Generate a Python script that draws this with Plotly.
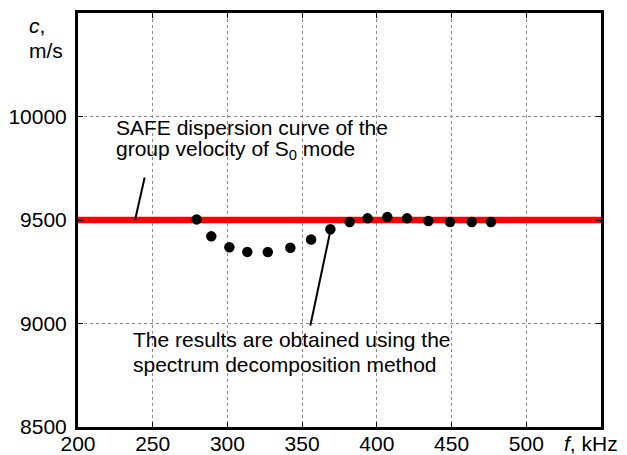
import plotly.graph_objects as go

# SAFE dispersion curve (group velocity of S0 mode)
safe_f = [200, 250, 300, 350, 400, 450, 500, 552]
safe_c = [9500, 9500, 9500, 9500, 9500, 9500, 9500, 9500]

# Spectrum decomposition results
res_f = [279.4, 289.2, 301.3, 313.3, 327.0, 342.1, 356.0, 368.9, 381.8, 393.8,
         407.0, 420.2, 434.5, 449.0, 463.5, 476.4]
res_c = [9503, 9421, 9368, 9346, 9345, 9366, 9406, 9455, 9490, 9508,
         9514, 9508, 9495, 9490, 9490, 9490]

x_ticks = [200, 250, 300, 350, 400, 450, 500, 550]
x_labels = ["200", "250", "300", "350", "400", "450", "500", " "]
x_unit = "<i>f</i>, kHz"
y_ticks = [8500, 9000, 9500, 10000, 10500]
y_labels = ["8500", "9000", "9500", "10000", " "]

# leader lines (data coordinates)
lead1_f = [244.6, 238.2]
lead1_c = [9705, 9500]
lead2_f = [368.9, 355.5]
lead2_c = [9448, 8990]

FONT = "Liberation Sans, Arial, sans-serif"
FS = 21

fig = go.Figure()
fig.add_trace(go.Scatter(x=safe_f, y=safe_c, mode="lines",
                         line=dict(color="#ff0000", width=6.5), showlegend=False))
fig.add_trace(go.Scatter(x=lead1_f, y=lead1_c, mode="lines",
                         line=dict(color="black", width=2), showlegend=False))
fig.add_trace(go.Scatter(x=lead2_f, y=lead2_c, mode="lines",
                         line=dict(color="black", width=2), showlegend=False))
fig.add_trace(go.Scatter(x=res_f, y=res_c, mode="markers",
                         marker=dict(color="black", size=10.5), showlegend=False))

ann = []
def txt(x, y, s, xref="x", yref="y", xanchor="left"):
    ann.append(dict(x=x, y=y, xref=xref, yref=yref, text=s, showarrow=False,
                    xanchor=xanchor, yanchor="middle",
                    font=dict(family=FONT, size=FS, color="black")))

txt(224.3, 9947, "SAFE dispersion curve of the")
txt(224.3, 9836, "group velocity of S<sub>0</sub> mode")
txt(235.7, 8924, "The results are obtained using the")
txt(235.7, 8804, "spectrum decomposition method")
txt(-0.098, 0.9686, "<i>c</i>,", xref="paper", yref="paper")
txt(-0.098, 0.9106, "m/s", xref="paper", yref="paper")
txt(1.036, -0.041, x_unit, xref="paper", yref="paper", xanchor="right")

# page body has an 8px margin, so the figure is 8px smaller and shifted
fig.update_layout(
    width=619, height=447,
    margin=dict(l=70, r=26, t=5, b=28, autoexpand=False),
    paper_bgcolor="white", plot_bgcolor="white",
    font=dict(family=FONT, size=FS, color="black"),
    annotations=ann,
    xaxis=dict(range=[200, 550], tickvals=x_ticks, ticktext=x_labels,
               showline=True, linecolor="black", linewidth=3, mirror="ticks",
               ticks="inside", ticklen=5, tickcolor="black", tickwidth=1,
               showgrid=True, gridcolor="#8a8a8a", gridwidth=1, griddash="dot",
               zeroline=False, automargin=False, ticklabelstandoff=-4,
               tickfont=dict(family=FONT, size=FS, color="black")),
    yaxis=dict(range=[8500, 10500], tickvals=y_ticks, ticktext=y_labels,
               showline=True, linecolor="black", linewidth=3, mirror="ticks",
               ticks="inside", ticklen=5, tickcolor="black", tickwidth=1,
               showgrid=True, gridcolor="#8a8a8a", gridwidth=1, griddash="dot",
               zeroline=False, automargin=False, ticklabelstandoff=4,
               tickfont=dict(family=FONT, size=FS, color="black")),
)

fig.write_html("out.html")
